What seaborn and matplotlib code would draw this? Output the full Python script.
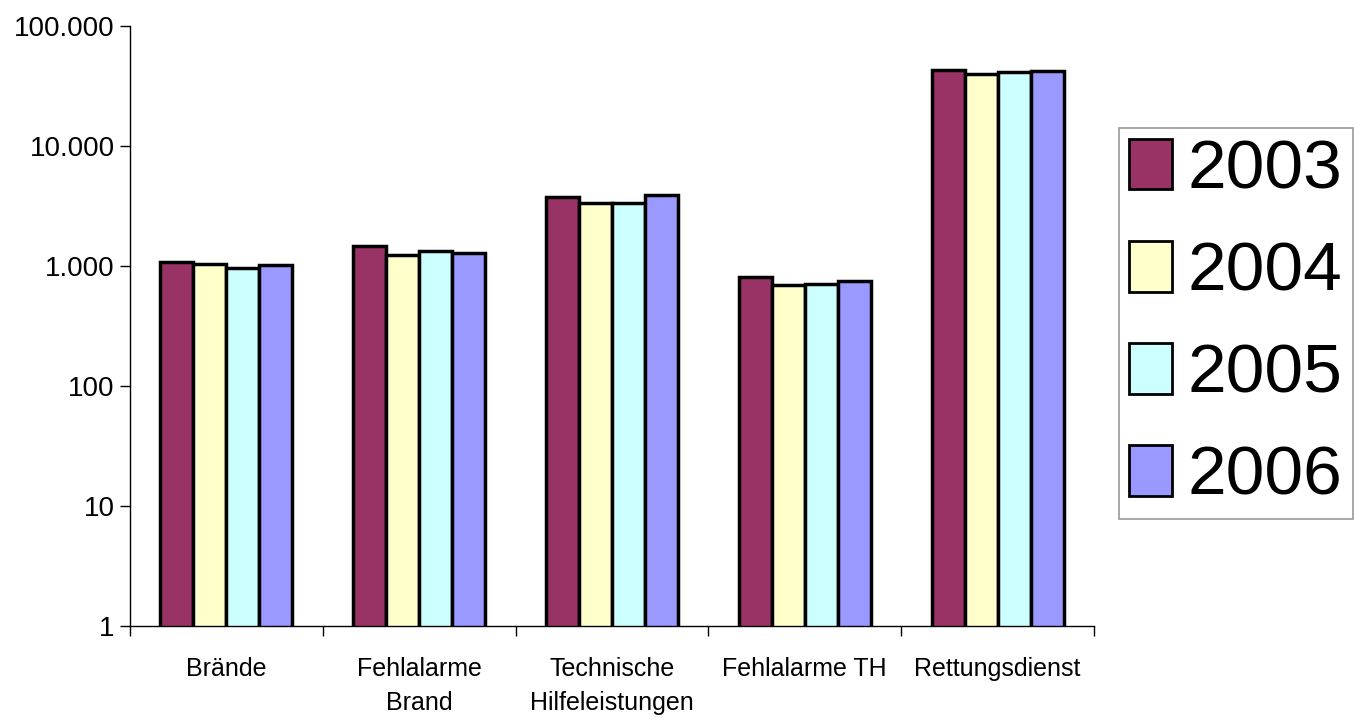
import matplotlib
matplotlib.use("Agg")
import matplotlib.pyplot as plt
import matplotlib.ticker as mticker
import numpy as np
import pandas as pd
import seaborn as sns

categories = ["Brände", "Fehlalarme\nBrand", "Technische\nHilfeleistungen", "Fehlalarme TH", "Rettungsdienst"]
years = ["2003", "2004", "2005", "2006"]
v2003 = [1085, 1475, 3740, 805, 43000]
v2004 = [1030, 1230, 3330, 695, 39600]
v2005 = [970, 1335, 3320, 705, 41200]
v2006 = [1010, 1290, 3910, 755, 42200]
colors = ["#993366", "#FFFFCC", "#CCFFFF", "#9999FF"]

rows = []
for y, vals in zip(years, [v2003, v2004, v2005, v2006]):
    for c, v in zip(categories, vals):
        rows.append({"Kategorie": c, "Jahr": y, "Wert": v})
df = pd.DataFrame(rows)

sns.set_style("white")
plt.rcParams["font.family"] = ["Liberation Sans", "DejaVu Sans"]
plt.rcParams["text.color"] = "black"
plt.rcParams["xtick.color"] = "black"
plt.rcParams["ytick.color"] = "black"

fig = plt.figure(figsize=(13.63, 7.22), dpi=100)
ax = fig.add_axes([0.0954, 0.133, 0.7072, 0.831])

sns.barplot(data=df, x="Kategorie", y="Wert", hue="Jahr", order=categories,
            hue_order=years, palette=colors, width=0.685, gap=0,
            edgecolor="black", linewidth=2.5, ax=ax,
            saturation=1, errorbar=None)
ax.set_yscale("log")

ax.set_ylim(1, 100000)
ax.set_xlim(-0.5, 4.5)
ax.set_yticks([1, 10, 100, 1000, 10000, 100000])
ax.yaxis.set_major_formatter(mticker.FuncFormatter(lambda v, p: f"{int(round(v)):,}".replace(",", ".")))
ax.yaxis.set_minor_locator(mticker.NullLocator())
ax.tick_params(axis="y", which="major", length=7, width=1, direction="out", labelsize=20, pad=4, left=True)
ax.set_xticks(np.arange(-0.5, 5, 1), minor=True)
ax.tick_params(axis="x", which="major", length=0, labelsize=18, pad=22)
ax.tick_params(axis="x", which="minor", length=7, width=1, direction="out", bottom=True)
for lbl in ax.get_xticklabels():
    lbl.set_linespacing(1.55)
ax.set_xlabel("")
ax.set_ylabel("")
for s in ["top", "right"]:
    ax.spines[s].set_visible(False)
for s in ["left", "bottom"]:
    ax.spines[s].set_color("black")
    ax.spines[s].set_linewidth(1)

handles, labels = ax.get_legend_handles_labels()
if ax.legend_:
    ax.legend_.remove()
leg = fig.legend(handles, labels, loc="center", bbox_to_anchor=(0.9065, 0.552),
                 frameon=True, fancybox=False, edgecolor="#808080", fontsize=50,
                 handlelength=0.62, handleheight=0.75, handletextpad=0.22,
                 labelspacing=0.55, borderpad=0.15, borderaxespad=0)
leg.get_frame().set_linewidth(1.2)
for h in leg.legend_handles:
    h.set_edgecolor("black")
    h.set_linewidth(2)

fig.savefig("out.png", dpi=100)
